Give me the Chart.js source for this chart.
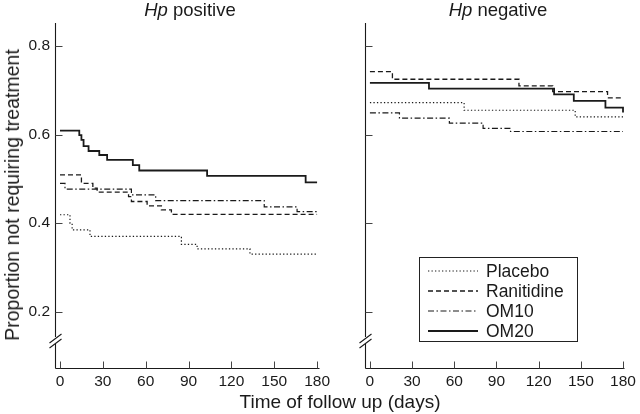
<!DOCTYPE html>
<html>
<head>
<meta charset="utf-8">
<script src="https://cdn.jsdelivr.net/npm/chart.js@4.4.1/dist/chart.umd.min.js"></script>
<style>
  html, body { margin: 0; padding: 0; background: #fff; }
  body { width: 640px; height: 414px; position: relative; overflow: hidden;
         font-family: "Liberation Sans", Arial, Helvetica, sans-serif; color: #1a1a1a; }
  canvas { position: absolute; top: 0; }
  #c1 { left: 0; }
  #c2 { left: 310px; }
  .ttl { position: absolute; white-space: nowrap; font-size: 18.5px; line-height: 20px; transform: translateX(-50%); }
  #xtitle { font-size: 19px; line-height: 22px; }
  #ytitle { position: absolute; white-space: nowrap; font-size: 19.5px; line-height: 22px;
            left: 12px; top: 195px; transform: translate(-50%, -50%) rotate(-90deg); }
  #legend { position: absolute; left: 419px; top: 257px; width: 159px; height: 85px;
            border: 1px solid #222; box-sizing: border-box; padding-top: 3px; }
  .row { height: 20px; display: flex; align-items: center; font-size: 17.5px; }
  .row svg { margin-left: 8px; margin-right: 8px; }
</style>
</head>
<body>
<canvas id="c1" width="340" height="414"></canvas>
<canvas id="c2" width="330" height="414"></canvas>
<div class="ttl" id="t1" style="left:190px; top:0px;"></div>
<div class="ttl" id="t2" style="left:498px; top:0px;"></div>
<div id="ytitle"></div>
<div class="ttl" id="xtitle" style="left:340px; top:391px;"></div>
<div id="legend"></div>
<script>
// ---------------- data ----------------
const xTicks = [0, 30, 60, 90, 120, 150, 180];
const yTicks = [0.2, 0.4, 0.6, 0.8];
const seriesNames = ['Placebo', 'Ranitidine', 'OM10', 'OM20'];
const panelTitlesItalic = ['Hp', 'Hp'];
const panelTitlesRest = [' positive', ' negative'];
const yAxisTitle = 'Proportion not requiring treatment';
const xAxisTitle = 'Time of follow up (days)';

// Hp positive
const posPlaceboDays = [0, 7, 8.5, 21, 85, 96, 133, 180];
const posPlaceboProp = [0.419, 0.400, 0.385, 0.370, 0.352, 0.342, 0.330, 0.330];
const posRanitidineDays = [0, 15, 23, 26, 48, 50, 61, 71, 78, 180];
const posRanitidineProp = [0.509, 0.490, 0.479, 0.470, 0.460, 0.449, 0.439, 0.430, 0.420, 0.420];
const posOM10Days = [0, 3.5, 50, 67, 143, 166, 180];
const posOM10Prop = [0.490, 0.477, 0.464, 0.451, 0.437, 0.426, 0.426];
const posOM20Days = [0, 13.5, 15, 16.5, 20, 27.5, 33, 51, 55.5, 103, 172, 180];
const posOM20Prop = [0.609, 0.599, 0.588, 0.574, 0.563, 0.554, 0.543, 0.531, 0.519, 0.507, 0.492, 0.492];

// Hp negative
const negPlaceboDays = [0, 67, 146, 180];
const negPlaceboProp = [0.672, 0.655, 0.640, 0.640];
const negRanitidineDays = [0, 16, 106, 130, 169, 180];
const negRanitidineProp = [0.742, 0.725, 0.710, 0.697, 0.683, 0.683];
const negOM10Days = [0, 21, 56.5, 80.5, 100, 180];
const negOM10Prop = [0.649, 0.637, 0.626, 0.614, 0.607, 0.607];
const negOM20Days = [0, 42, 131, 145, 167.5, 180];
const negOM20Prop = [0.717, 0.704, 0.691, 0.676, 0.661, 0.650];

// ---------------- styles ----------------
const INK = '#1a1a1a';
const lineStyles = {
  Placebo:    { dash: [1.3, 2.2], width: 1.2 },
  Ranitidine: { dash: [5, 3], width: 1.3 },
  OM10:       { dash: [6, 2.5, 1.5, 2.5], width: 1.2 },
  OM20:       { dash: [], width: 1.8 }
};
const X_MIN = -3.5, X_MAX = 181, Y_MIN = 0.073, Y_MAX = 0.852, BREAK_AT = 0.134;

function pts(days, vals) { return days.map((d, i) => ({ x: d, y: vals[i] })); }
function makeDatasets(groups) {
  return seriesNames.map((name, i) => ({
    label: name,
    data: pts(groups[i][0], groups[i][1]),
    stepped: 'before',
    borderColor: INK,
    borderWidth: lineStyles[name].width,
    borderDash: lineStyles[name].dash,
    pointRadius: 0,
    fill: false,
    tension: 0
  }));
}

const axisPlugin = {
  id: 'axisBreak',
  afterDraw(chart) {
    const { ctx, chartArea: a, scales: { x, y } } = chart;
    const xl = Math.round(a.left) + 0.5;
    const yb = Math.round(a.bottom) + 0.5;
    const brk = y.getPixelForValue(BREAK_AT);
    ctx.save();
    ctx.strokeStyle = INK;
    ctx.lineWidth = 1.1;
    ctx.setLineDash([]);
    ctx.beginPath();
    ctx.moveTo(xl, a.top); ctx.lineTo(xl, brk - 4);
    ctx.moveTo(xl, brk + 3); ctx.lineTo(xl, yb);
    ctx.moveTo(xl, yb); ctx.lineTo(Math.round(a.right) + 0.5, yb);
    ctx.stroke();
    // break marks
    ctx.beginPath();
    [-2.5, 2.5].forEach(o => {
      ctx.moveTo(xl - 6, brk + o + 4.5);
      ctx.lineTo(xl + 6, brk + o - 4.5);
    });
    ctx.stroke();
    // inward ticks
    ctx.strokeStyle = '#444';
    ctx.lineWidth = 1;
    ctx.beginPath();
    yTicks.forEach(v => {
      const py = Math.round(y.getPixelForValue(v)) + 0.5;
      ctx.moveTo(xl, py); ctx.lineTo(xl + 7, py);
    });
    xTicks.forEach(v => {
      const px = Math.round(x.getPixelForValue(v)) + 0.5;
      ctx.moveTo(px, yb); ctx.lineTo(px, yb - 7);
    });
    ctx.stroke();
    ctx.restore();
  }
};

function makeChart(id, groups, showYLabels, padRight) {
  return new Chart(document.getElementById(id), {
    type: 'line',
    data: { datasets: makeDatasets(groups) },
    options: {
      responsive: false,
      animation: false,
      events: [],
      layout: { padding: { left: 0, top: 23, right: padRight, bottom: 0 } },
      plugins: { legend: { display: false }, tooltip: { enabled: false } },
      scales: {
        x: {
          type: 'linear', min: X_MIN, max: X_MAX,
          afterBuildTicks: s => { s.ticks = xTicks.map(v => ({ value: v })); },
          afterFit: s => { s.height = 46; },
          grid: { display: false, drawTicks: false },
          border: { display: false },
          ticks: { autoSkip: false, maxRotation: 0, padding: 4, color: INK,
                   font: { family: '"Liberation Sans", Arial, sans-serif', size: 15.5 },
                   callback: v => String(v) }
        },
        y: {
          type: 'linear', min: Y_MIN, max: Y_MAX,
          afterBuildTicks: s => { s.ticks = yTicks.map(v => ({ value: v })); },
          afterFit: s => { s.width = 55; },
          grid: { display: false, drawTicks: false },
          border: { display: false },
          ticks: { display: showYLabels, padding: 5, color: INK,
                   font: { family: '"Liberation Sans", Arial, sans-serif', size: 15.5 },
                   callback: v => Number(v).toFixed(1) }
        }
      }
    },
    plugins: [axisPlugin]
  });
}

makeChart('c1', [
  [posPlaceboDays, posPlaceboProp],
  [posRanitidineDays, posRanitidineProp],
  [posOM10Days, posOM10Prop],
  [posOM20Days, posOM20Prop]
], true, 21.5);

makeChart('c2', [
  [negPlaceboDays, negPlaceboProp],
  [negRanitidineDays, negRanitidineProp],
  [negOM10Days, negOM10Prop],
  [negOM20Days, negOM20Prop]
], false, 11.5);

// ---------------- text ----------------
['t1', 't2'].forEach((id, i) => {
  const el = document.getElementById(id);
  const it = document.createElement('i'); it.textContent = panelTitlesItalic[i];
  el.appendChild(it);
  el.appendChild(document.createTextNode(panelTitlesRest[i]));
});
document.getElementById('ytitle').textContent = yAxisTitle;
document.getElementById('xtitle').textContent = xAxisTitle;

// ---------------- legend ----------------
const legend = document.getElementById('legend');
const NS = 'http://www.w3.org/2000/svg';
seriesNames.forEach(name => {
  const row = document.createElement('div'); row.className = 'row';
  const svg = document.createElementNS(NS, 'svg');
  svg.setAttribute('width', '50'); svg.setAttribute('height', '6');
  const ln = document.createElementNS(NS, 'line');
  ln.setAttribute('x1', '0'); ln.setAttribute('y1', '3');
  ln.setAttribute('x2', '50'); ln.setAttribute('y2', '3');
  ln.setAttribute('stroke', INK);
  ln.setAttribute('stroke-width', String(lineStyles[name].width));
  if (lineStyles[name].dash.length) ln.setAttribute('stroke-dasharray', lineStyles[name].dash.join(' '));
  svg.appendChild(ln);
  const sp = document.createElement('span'); sp.textContent = name;
  row.appendChild(svg); row.appendChild(sp);
  legend.appendChild(row);
});
</script>
</body>
</html>
